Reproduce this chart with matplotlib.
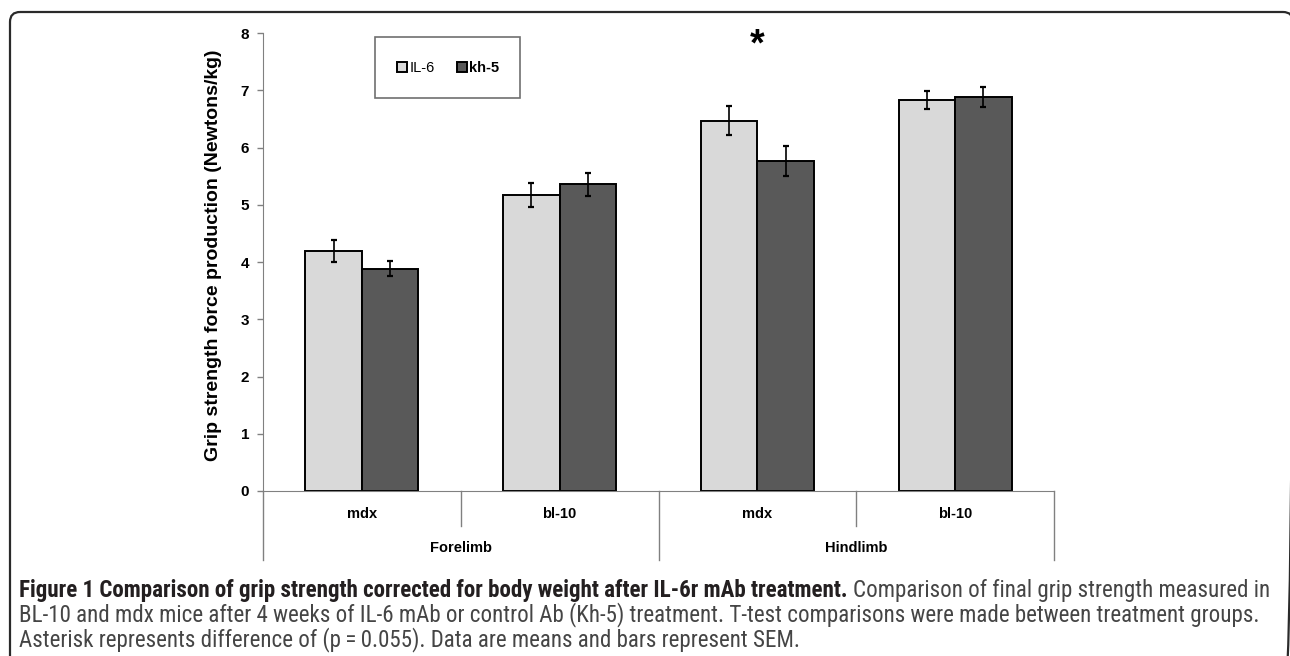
'''
Grip strength plot

Bar chart of grip strength corrected for body weight after IL-6r mAb
treatment, with the figure caption below it.
'''

# -----------------------------------------------------------------------------
# Modules

from matplotlib import pyplot as plt
from matplotlib import font_manager
from matplotlib.patches import FancyBboxPatch, Rectangle
from matplotlib.transforms import blended_transform_factory
import numpy as np

# -----------------------------------------------------------------------------
# Data

strains = ['mdx', 'bl-10', 'mdx', 'bl-10']
limbs = ['Forelimb', 'Hindlimb']
groups = ['IL-6', 'kh-5']

il6_mean = [4.19, 5.17, 6.47, 6.83]
il6_sem = [0.19, 0.21, 0.25, 0.16]
kh5_mean = [3.88, 5.36, 5.77, 6.88]
kh5_sem = [0.13, 0.20, 0.26, 0.18]

y_ticks = [0, 1, 2, 3, 4, 5, 6, 7, 8]

caption_bold = ('Figure 1 Comparison of grip strength corrected for body '
                'weight after IL-6r mAb treatment.')
caption_lines = [
    'Comparison of final grip strength measured in',
    'BL-10 and mdx mice after 4 weeks of IL-6 mAb or control Ab (Kh-5) '
    'treatment. T-test comparisons were made between treatment groups.',
    'Asterisk represents difference of (p\u2009=\u20090.055). Data are means '
    'and bars represent SEM.',
]

# -----------------------------------------------------------------------------
# Fonts

installed = {f.name for f in font_manager.fontManager.ttflist}
chart_font = 'Liberation Sans' if 'Liberation Sans' in installed \
    else 'DejaVu Sans'
caption_font = chart_font
for name in ['Liberation Sans Narrow', 'Roboto Condensed', 'Open Sans']:
    if name in installed:
        caption_font = name
        break

plt.rcParams['font.family'] = [chart_font, 'DejaVu Sans']

# -----------------------------------------------------------------------------
# Figure

W, H = 1290, 656
figure = plt.figure(figsize=(W / 100, H / 100), dpi=100)

# Background axes in pixel units for the rounded frame
bg = figure.add_axes([0, 0, 1, 1], zorder=-1)
bg.set_xlim(0, W)
bg.set_ylim(H, 0)
bg.axis('off')
frame = FancyBboxPatch((10, 12), 1283, 700,
                       boxstyle='round,pad=0,rounding_size=10',
                       facecolor='none', edgecolor='#2a2a2a', linewidth=1.6)
bg.add_patch(frame)

ax = figure.add_axes([263 / W, 1 - 491 / H, 791 / W, 458 / H])

x = np.arange(len(strains))
width = 0.286

ax.bar(x - width / 2, il6_mean, width, color='#d9d9d9', edgecolor='black',
       linewidth=1.4, label=groups[0], zorder=2)
ax.bar(x + width / 2, kh5_mean, width, color='#595959', edgecolor='black',
       linewidth=1.4, label=groups[1], zorder=2)
ax.errorbar(x - width / 2, il6_mean, yerr=il6_sem, fmt='none',
            ecolor='black', elinewidth=1.2, capsize=2.5, capthick=1.6,
            zorder=3)
ax.errorbar(x + width / 2, kh5_mean, yerr=kh5_sem, fmt='none',
            ecolor='black', elinewidth=1.2, capsize=2.5, capthick=1.6,
            zorder=3)

ax.set_xlim(-0.5, len(strains) - 0.5)
ax.set_ylim(0, 8)
ax.set_yticks(y_ticks)
ax.set_yticklabels([str(t) for t in y_ticks], fontweight='bold',
                   fontsize=11)
ax.tick_params(axis='y', direction='out', length=4, width=1,
               color='#808080', pad=6)
ax.set_xticks([])

for side in ['top', 'right']:
    ax.spines[side].set_visible(False)
ax.spines['left'].set_color('#808080')
ax.spines['bottom'].set_color('#808080')

# Two level category axis
trans = blended_transform_factory(ax.transData, ax.transAxes)
for i, name in enumerate(strains):
    ax.text(i, -0.05, name, transform=trans, ha='center', va='center',
            fontsize=10.5, fontweight='bold')
for j, name in enumerate(limbs):
    ax.text(2 * j + 0.5, -0.124, name, transform=trans, ha='center',
            va='center', fontsize=10.5, fontweight='bold')
for k in range(len(strains) + 1):
    bottom = -0.151 if k % 2 == 0 else -0.0764
    ax.plot([k - 0.5, k - 0.5], [0, bottom], transform=trans,
            color='#808080', linewidth=1, clip_on=False)

ax.text(2, 7.78, '*', ha='center', va='center', fontsize=27,
        fontweight='bold')

# Legend in its own box
box = Rectangle((0.141, 0.858), 0.184, 0.133, transform=ax.transAxes,
                facecolor='white', edgecolor='#707070', linewidth=1.2,
                zorder=4)
ax.add_patch(box)
legend = ax.legend(loc='center', bbox_to_anchor=(0.234, 0.924), ncol=2,
                   frameon=False, fontsize=10.5, handlelength=0.7,
                   handleheight=0.7, handletextpad=0.15, columnspacing=1.5)
legend.set_zorder(5)
legend.get_texts()[1].set_fontweight('bold')

figure.text(213 / W, 1 - 255 / H,
            'Grip strength force production (Newtons/kg)', rotation=90,
            ha='center', va='center', fontsize=14, fontweight='bold')

# -----------------------------------------------------------------------------
# Caption

size = 14
renderer = figure.canvas.get_renderer()
head = figure.text(19 / W, 1 - 590 / H, caption_bold, family=caption_font,
                   fontweight='bold', fontsize=size, color='#231f20',
                   ha='left', va='center')
tail = figure.text(0, 0, caption_lines[0], family=caption_font,
                   fontsize=size, color='#454545', ha='left', va='center')
span = (head.get_window_extent(renderer).width
        + tail.get_window_extent(renderer).width + 5)
size = size * 1256 / span
head.set_fontsize(size)
tail.set_fontsize(size)
head_box = head.get_window_extent(renderer)
tail.set_position(((head_box.x1 + 5) / W, 1 - 590 / H))

for n, line in enumerate(caption_lines[1:]):
    figure.text(19 / W, 1 - (615 + 25 * n) / H, line, family=caption_font,
                fontsize=size, color='#454545', ha='left', va='center')

figure.savefig('out.png', dpi=100)
